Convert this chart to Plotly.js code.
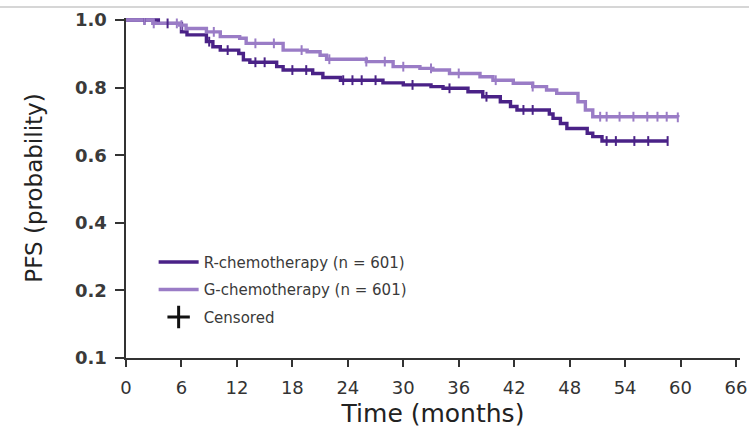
<!DOCTYPE html>
<html>
<head>
<meta charset="utf-8">
<script src="https://cdn.plot.ly/plotly-3.0.1.min.js"></script>
<style>html,body{margin:0;padding:0;background:#fff;}#chart{width:749px;height:433px;}</style>
</head>
<body>
<div id="chart"></div>
<script>
// R-chemotherapy KM step points (months, PFS probability)
var rTimes = [0, 3.5, 6.0, 6.6, 8.7, 9.4, 10.2, 12.2, 12.7, 13.4, 16.3, 17.0, 20.2, 21.3, 23.2, 27.8, 30.0, 33.0, 34.3, 37.0, 38.6, 40.5, 41.6, 42.3, 45.8, 46.2, 47.0, 47.7, 49.9, 50.5, 51.5, 58.6];
var rSurv  = [1.0, 0.99, 0.965, 0.956, 0.936, 0.921, 0.911, 0.901, 0.882, 0.875, 0.862, 0.852, 0.842, 0.830, 0.822, 0.814, 0.808, 0.803, 0.798, 0.788, 0.773, 0.758, 0.744, 0.734, 0.722, 0.709, 0.694, 0.679, 0.665, 0.655, 0.642, 0.642];
var rCensor = [2, 4.5, 9, 11, 14, 15, 18, 19.5, 23.5, 24.5, 25.5, 27, 31, 35, 39, 43, 44, 52, 53, 55, 56.5, 58.6];

// G-chemotherapy KM step points
var gTimes = [0, 2.9, 5.8, 6.5, 8.7, 10.2, 12.3, 13.0, 17.0, 19.6, 21.0, 21.7, 26.0, 28.9, 31.8, 33.2, 35.0, 38.3, 39.7, 41.9, 44.0, 45.5, 46.6, 48.9, 49.7, 50.5, 59.7];
var gSurv  = [1.0, 0.99, 0.985, 0.975, 0.965, 0.951, 0.946, 0.931, 0.911, 0.906, 0.896, 0.884, 0.877, 0.862, 0.857, 0.852, 0.842, 0.832, 0.822, 0.813, 0.803, 0.793, 0.783, 0.758, 0.734, 0.714, 0.712];
var gCensor = [2, 3, 5.5, 6, 9.5, 14, 16, 19, 22, 26, 28, 30, 33, 36, 40, 44, 51.3, 52, 53.4, 54.9, 56.4, 57.5, 58.5, 59.7];

var xTickVals = [0, 6, 12, 18, 24, 30, 36, 42, 48, 54, 60, 66];
var yTickVals = [0, 0.2, 0.4, 0.6, 0.8, 1.0];
var yTickText = ["0.1", "0.2", "0.4", "0.6", "0.8", "1.0"];

var seriesNames = ["R-chemotherapy (n = 601)", "G-chemotherapy (n = 601)", "Censored"];
var rColor = "#4a2287";
var gColor = "#9a7cc6";

function stepAt(times, surv, t) {
  var v = surv[0];
  for (var i = 0; i < times.length; i++) { if (times[i] <= t) v = surv[i]; }
  return v;
}

var font = "DejaVu Sans, Arial, sans-serif";

var traces = [
  {x: rTimes, y: rSurv, mode: "lines", line: {shape: "hv", color: rColor, width: 3.4}, name: seriesNames[0], legendrank: 1, legendgroup: "r"},
  {x: gTimes, y: gSurv, mode: "lines", line: {shape: "hv", color: gColor, width: 3.4}, name: seriesNames[1], legendrank: 2, legendgroup: "g"},
  {x: rCensor, y: rCensor.map(function(t){return stepAt(rTimes, rSurv, t);}), mode: "markers",
   marker: {symbol: "line-ns-open", size: 7, color: rColor, line: {color: rColor, width: 2}}, showlegend: false, hoverinfo: "skip"},
  {x: gCensor, y: gCensor.map(function(t){return stepAt(gTimes, gSurv, t);}), mode: "markers",
   marker: {symbol: "line-ns-open", size: 7, color: gColor, line: {color: gColor, width: 2}}, showlegend: false, hoverinfo: "skip"},
  {x: [null], y: [null], mode: "markers", name: seriesNames[2], legendrank: 3, legendgroup: "c",
   marker: {symbol: "cross-thin-open", size: 20, color: "#111", line: {color: "#111", width: 3}}}
];

var layout = {
  width: 749, height: 433,
  margin: {l: 126, r: 9, t: 18, b: 75},
  paper_bgcolor: "#fff", plot_bgcolor: "#fff",
  font: {family: font, color: "#333"},
  showlegend: true,
  legend: {x: 0.045, y: 0.33, xanchor: "left", yanchor: "top", bgcolor: "rgba(0,0,0,0)",
           font: {family: font, size: 15, color: "#3a3a3a"}, itemwidth: 40, tracegroupgap: 5},
  xaxis: {range: [0, 66.43], tickmode: "array", tickvals: xTickVals, ticktext: xTickVals.map(String),
          showgrid: false, zeroline: false, showline: true, linecolor: "#333", linewidth: 2,
          ticks: "outside", ticklen: 7, tickwidth: 2, tickcolor: "#333",
          tickfont: {family: font, size: 18, color: "#333"}, ticklabelstandoff: 5,
          title: {text: "Time (months)", font: {family: font, size: 25, color: "#222"}, standoff: 8}},
  yaxis: {range: [0, 1.006], tickmode: "array", tickvals: yTickVals, ticktext: yTickText,
          showgrid: false, zeroline: false, showline: true, linecolor: "#333", linewidth: 2.5,
          ticks: "outside", ticklen: 9, tickwidth: 2, tickcolor: "#333",
          tickfont: {family: font, size: 18, color: "#3a3a3a", weight: "bold"}, ticklabelstandoff: 4,
          title: {text: "PFS (probability)", font: {family: font, size: 23, color: "#222"}, standoff: 26}},
  shapes: [{type: "line", xref: "paper", yref: "paper", x0: -0.21, x1: 1.02, y0: 1.032, y1: 1.032,
            line: {color: "#c8c8c8", width: 1.5}}]
};

Plotly.newPlot("chart", traces, layout, {displayModeBar: false, staticPlot: true});
</script>
</body>
</html>
